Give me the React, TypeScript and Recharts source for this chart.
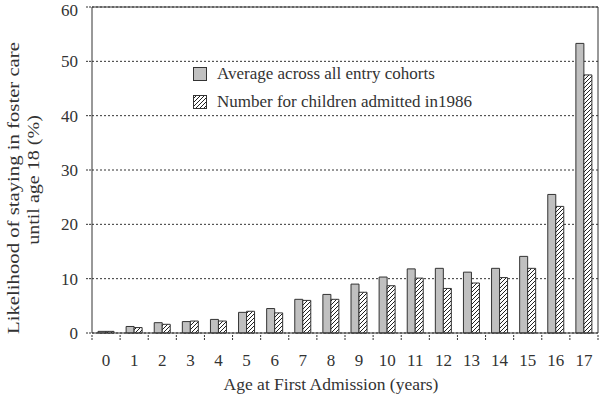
// App.tsx — likelihood of staying in foster care until 18, by age at first admission.

import { Bar, BarChart, CartesianGrid, ReferenceLine, XAxis, YAxis } from "recharts";

const ages = ["0", "1", "2", "3", "4", "5", "6", "7", "8", "9", "10", "11", "12", "13", "14", "15", "16", "17"];
const averageAll = [0.3, 1.2, 1.9, 2.1, 2.5, 3.8, 4.5, 6.2, 7.1, 9.0, 10.3, 11.8, 11.9, 11.2, 11.9, 14.1, 25.5, 53.3];
const cohort1986 = [0.3, 1.0, 1.6, 2.2, 2.2, 4.0, 3.7, 6.0, 6.2, 7.5, 8.7, 10.1, 8.2, 9.2, 10.2, 11.9, 23.3, 47.5];
const yTicks = [0, 10, 20, 30, 40, 50, 60];

const data = ages.map((age, i) => ({ age, avg: averageAll[i], c1986: cohort1986[i] }));

const FONT = "'Liberation Serif', 'Times New Roman', serif";
const INK = "#333";

function AgeTick(props: any) {
  const { x, y, payload, index } = props;
  const half = payload.offset ?? 14;
  return (
    <g>
      <line x1={x - half} y1={y - 6} x2={x - half} y2={y} stroke={INK} strokeDasharray="2 1" />
      {index === ages.length - 1 && (
        <line x1={x + half} y1={y - 6} x2={x + half} y2={y} stroke={INK} strokeDasharray="2 1" />
      )}
      <text x={x} y={y + 25} textAnchor="middle" fontFamily={FONT} fontSize={17} fill={INK}>
        {payload.value}
      </text>
    </g>
  );
}

function YTitle() {
  return (
    <g fontFamily={FONT} fontSize={17} fill={INK}>
      <text transform="translate(13 188) rotate(-90) scale(1.22 1)" textAnchor="middle" dominantBaseline="central">
        Likelihood of staying in foster care
      </text>
      <text transform="translate(33 180) rotate(-90) scale(1.18 1)" textAnchor="middle" dominantBaseline="central">
        until age 18 (%)
      </text>
    </g>
  );
}

function LegendBox() {
  const row = { display: "flex", alignItems: "center", height: 28 } as const;
  const text = { fontFamily: FONT, fontSize: 17, color: INK, marginLeft: 10, whiteSpace: "nowrap" } as const;
  return (
    <div style={{ position: "absolute", left: 193, top: 60 }}>
      <div style={row}>
        <svg width={14} height={14}>
          <rect x={0.5} y={0.5} width={13} height={13} fill="#c0c0c0" stroke={INK} />
        </svg>
        <span style={text}>Average across all entry cohorts</span>
      </div>
      <div style={row}>
        <svg width={14} height={14}>
          <rect x={0.5} y={0.5} width={13} height={13} fill="url(#hatch)" stroke={INK} />
        </svg>
        <span style={text}>Number for children admitted in1986</span>
      </div>
    </div>
  );
}

export default function App() {
  return (
    <div style={{ position: "absolute", left: 0, top: 0, width: 600, height: 396, background: "#fff" }}>
      <svg width={0} height={0} style={{ position: "absolute" }}>
        <defs>
          <pattern id="hatch" patternUnits="userSpaceOnUse" width={4} height={4}>
            <rect width={4} height={4} fill="#fff" />
            <path d="M-1,1 l2,-2 M0,4 l4,-4 M3,5 l2,-2" stroke="#222" strokeWidth={1} />
          </pattern>
        </defs>
      </svg>
      <BarChart
        width={600}
        height={396}
        data={data}
        margin={{ top: 7, right: 1, bottom: 0, left: 0 }}
        barGap={0}
        barSize={8}
      >
        <CartesianGrid vertical={false} stroke={INK} strokeDasharray="2 2" />
        <XAxis
          dataKey="age"
          height={63}
          axisLine={{ stroke: INK }}
          tickLine={false}
          tick={<AgeTick />}
          interval={0}
        />
        <YAxis
          width={92}
          domain={[0, 60]}
          ticks={yTicks}
          axisLine={{ stroke: INK }}
          tickLine={{ stroke: INK, strokeDasharray: "2 1" }}
          tickSize={6}
          tickMargin={8}
          tick={{ fontFamily: FONT, fontSize: 17, fill: INK }}
          label={<YTitle />}
        />
        <YAxis
          yAxisId="right"
          orientation="right"
          width={1}
          domain={[0, 60]}
          ticks={[]}
          tick={false}
          tickLine={false}
          axisLine={{ stroke: INK }}
        />
        <ReferenceLine y={60} stroke={INK} />
        <Bar dataKey="avg" fill="#c0c0c0" stroke={INK} strokeWidth={1} isAnimationActive={false} />
        <Bar dataKey="c1986" fill="url(#hatch)" stroke={INK} strokeWidth={1} isAnimationActive={false} />
      </BarChart>
      <LegendBox />
      <div
        style={{
          position: "absolute",
          left: 0,
          width: 662,
          top: 374,
          textAlign: "center",
          fontFamily: FONT,
          fontSize: 17.5,
          color: INK,
          whiteSpace: "nowrap",
        }}
      >
        Age at First Admission (years)
      </div>
    </div>
  );
}
